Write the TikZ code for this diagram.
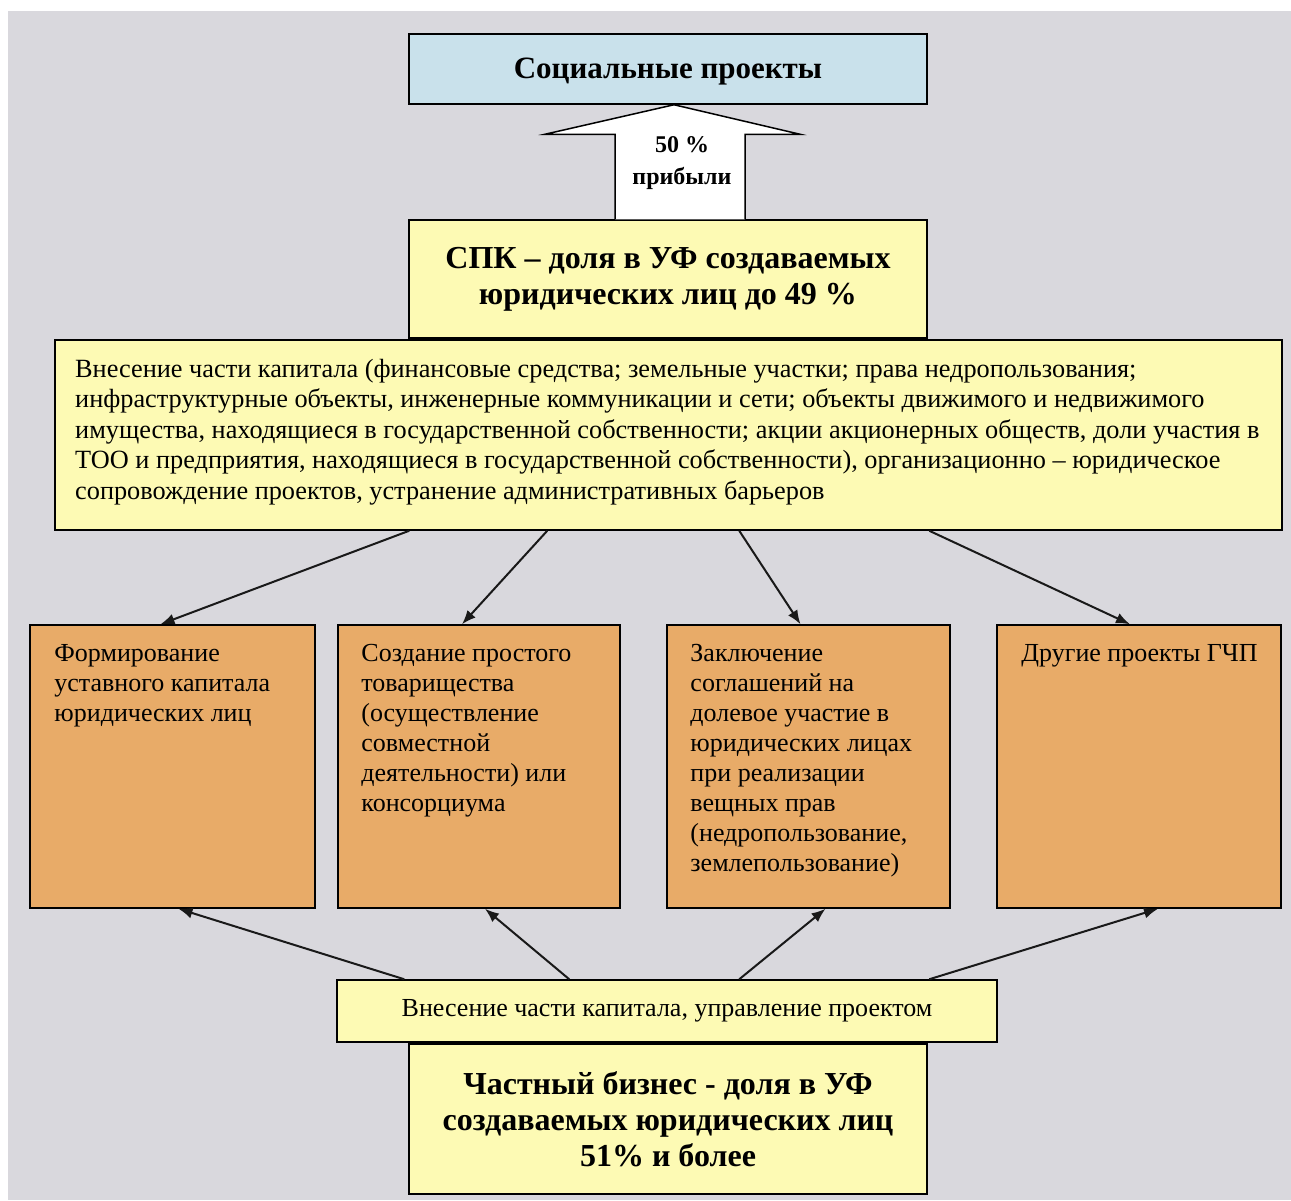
\documentclass[tikz,border=0pt]{standalone}
\usepackage{fontspec}
\setmainfont{Liberation Serif}
\usetikzlibrary{calc,arrows.meta}
\definecolor{bggray}{HTML}{D9D8DD}
\definecolor{socblue}{HTML}{C9E1EB}
\definecolor{lightyel}{HTML}{FDFAB4}
\definecolor{tanor}{HTML}{E8AB68}
\begin{document}
\begin{tikzpicture}[x=1pt,y=-1pt,
  box/.style={draw=black, line width=1.5pt, inner sep=0pt},
  arr/.style={draw=black!90, line width=2pt, -{Latex[length=14pt,width=11pt]}},
  titlefont/.style={font=\fontsize{31}{34}\selectfont\bfseries},
  bigbold/.style={font=\fontsize{32}{36}\selectfont\bfseries, align=center},
  orfont/.style={font=\fontsize{26}{30}\selectfont, align=left, anchor=north west, inner sep=0pt}
]
\useasboundingbox (0,0) rectangle (1291,1200);
\fill[white] (0,0) rectangle (1291,1200);
\fill[bggray] (8,11) rectangle (1291,1200);

% top
\node[box, fill=socblue, minimum width=518pt, minimum height=70pt, titlefont, text depth=2pt] (soc) at (668,69) {Социальные проекты};
\node[box, fill=lightyel, minimum width=518pt, minimum height=118pt, bigbold] (spk) at (668,279)
  {СПК – доля в УФ создаваемых\\юридических лиц до 49 \%};

% block arrow
\draw[fill=white, line width=1.5pt, line join=miter]
  ($(spk.north)+(-53,0)$) -- ($(spk.north)+(-53,-85)$) -- ($(spk.north)+(-123,-85)$)
  -- ($(soc.south)+(6,0)$) -- ($(spk.north)+(132,-85)$) -- ($(spk.north)+(77,-85)$)
  -- ($(spk.north)+(77,0)$);
\node[font=\fontsize{24}{32}\selectfont\bfseries, align=center] (pct) at (682,163) {50 \%\\прибыли};

% big box
\node[box, fill=lightyel, minimum width=1227pt, minimum height=190pt] (big) at (668.5,435) {};
\node[anchor=west, inner sep=0pt, align=left, font=\fontsize{26.3}{30.5}\selectfont] (bigt) at (75,432)
  {Внесение части капитала (финансовые средства; земельные участки; права недропользования;\\
   инфраструктурные объекты, инженерные коммуникации и сети; объекты движимого и недвижимого\\
   имущества, находящиеся в государственной собственности; акции акционерных обществ, доли участия в\\
   ТОО и предприятия, находящиеся в государственной собственности), организационно – юридическое\\
   сопровождение проектов, устранение административных барьеров};

% orange boxes
\node[box, fill=tanor, minimum width=285pt, minimum height=283pt] (o1) at (172.5,766.5) {};
\node[box, fill=tanor, minimum width=282pt, minimum height=283pt] (o2) at (479,766.5) {};
\node[box, fill=tanor, minimum width=283pt, minimum height=283pt] (o3) at (808.5,766.5) {};
\node[box, fill=tanor, minimum width=284pt, minimum height=283pt] (o4) at (1139,766.5) {};

\node[orfont] (t1) at ($(o1.north west)+(25,20)$) {Формирование\\уставного капитала\\юридических лиц};
\node[orfont] (t2) at ($(o2.north west)+(24,20)$) {Создание простого\\товарищества\\(осуществление\\совместной\\деятельности) или\\консорциума};
\node[orfont] (t3) at ($(o3.north west)+(24,20)$) {Заключение\\соглашений на\\долевое участие в\\юридических лицах\\при реализации\\вещных прав\\(недропользование,\\землепользование)};
\node[orfont] (t4) at ($(o4.north west)+(25,20)$) {Другие проекты ГЧП};

% bottom
\node[box, fill=lightyel, minimum width=518pt, minimum height=150pt, bigbold] (priv) at (668,1119)
  {Частный бизнес - доля в УФ\\создаваемых юридических лиц\\51\% и более};
\node[box, fill=lightyel, minimum width=660pt, minimum height=62pt, font=\fontsize{26}{30}\selectfont] (small) at (667,1011)
  {Внесение части капитала, управление проектом};

% arrows down
\draw[arr] ([xshift=355pt]big.south west) -- ([xshift=-12pt]o1.north);
\draw[arr] ([xshift=493pt]big.south west) -- ([xshift=-17pt]o2.north);
\draw[arr] ([xshift=685pt]big.south west) -- ([xshift=-8pt]o3.north);
\draw[arr] ([xshift=875pt]big.south west) -- ([xshift=-9pt]o4.north);
% arrows up
\draw[arr] ([xshift=68pt]small.north west) -- ([xshift=6pt]o1.south);
\draw[arr] ([xshift=233pt]small.north west) -- ([xshift=6pt]o2.south);
\draw[arr] ([xshift=403pt]small.north west) -- ([xshift=17pt]o3.south);
\draw[arr] ([xshift=593pt]small.north west) -- ([xshift=19pt]o4.south);
\end{tikzpicture}
\end{document}
